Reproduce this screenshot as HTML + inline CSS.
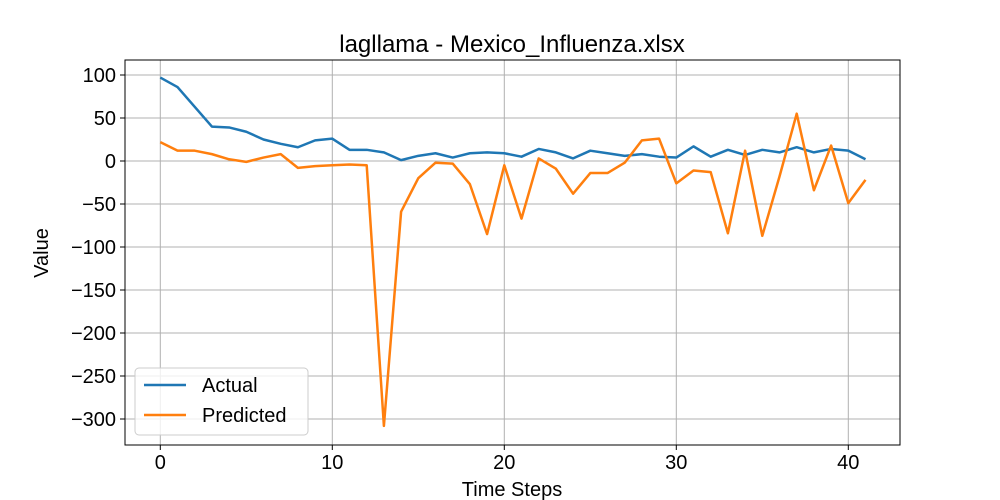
<!DOCTYPE html>
<html><head><meta charset="utf-8"><style>body{margin:0;background:#fff}svg{display:block;font-family:"Liberation Sans",sans-serif}</style></head>
<body>
<svg id="c" width="1000" height="500"></svg>
<script>
const steps=[...Array(42).keys()];
const actual=[97,86,63,40,39,34,25,20,16,24,26,13,13,10,1,6,9,4,9,10,9,5,14,10,3,12,9,6,8,5,4,17,5,13,7,13,10,16,10,14,12,2];
const predicted=[22,12,12,8,2,-1,4,8,-8,-6,-5,-4,-5,-308,-59,-20,-2,-3,-27,-85,-5,-67,3,-9,-38,-14,-14,-2,24,26,-26,-11,-13,-84,12,-87,-18,55,-34,18,-49,-22];
const xTicks=[0,10,20,30,40];
const yTicks=[100,50,0,-50,-100,-150,-200,-250,-300];
const L=125,R=900,T=60,B=445;
const xs=v=>160.3+v*17.2, ys=v=>161-v*0.86;
const s=document.getElementById('c');const NS='http://www.w3.org/2000/svg';
function el(t,a,txt){const e=document.createElementNS(NS,t);for(const k in a)e.setAttribute(k,a[k]);if(txt!=null)e.textContent=txt;s.appendChild(e);return e;}
xTicks.forEach(v=>{const x=xs(v);
const g=el('line',{x1:x,x2:x,y1:T,y2:B,stroke:'#b0b0b0','stroke-width':1});


el('line',{x1:x,x2:x,y1:B,y2:B+5,stroke:'#000'});
const t=el('text',{x:x,y:B+24,'text-anchor':'middle','font-size':20},String(v));

});
yTicks.forEach(v=>{const y=ys(v);
const g=el('line',{x1:L,x2:R,y1:y,y2:y,stroke:'#b0b0b0','stroke-width':1});


el('line',{x1:L-5,x2:L,y1:y,y2:y,stroke:'#000'});
const t=el('text',{x:L-9,y:y+7,'text-anchor':'end','font-size':20},String(v).replace('-','\u2212'));

});
function line(d,c,n){const p=el('polyline',{points:d.map((v,i)=>xs(steps[i])+','+ys(v)).join(' '),fill:'none',stroke:c,'stroke-width':2.5,'stroke-linejoin':'round'});

}
line(actual,'#1f77b4','actual-line');line(predicted,'#ff7f0e','predicted-line');
const fr=el('rect',{x:L,y:T,width:R-L,height:B-T,fill:'none',stroke:'#000','stroke-width':1});


const ti=el('text',{x:512,y:52,'text-anchor':'middle','font-size':24},'lagllama - Mexico_Influenza.xlsx');


const xl=el('text',{x:512,y:496,'text-anchor':'middle','font-size':20},'Time Steps');


const yl=el('text',{x:48,y:253,'text-anchor':'middle','font-size':20,transform:'rotate(-90 48 253)'},'Value');


const lg=el('rect',{x:135,y:368,width:173,height:67,rx:4,fill:'#fff','fill-opacity':0.8,stroke:'#ccc'});


[['Actual','#1f77b4',385],['Predicted','#ff7f0e',415]].forEach(([n,c,y])=>{
el('line',{x1:144,x2:186,y1:y,y2:y,stroke:c,'stroke-width':2.5});
const t=el('text',{x:202,y:y+7,'font-size':20},n);

});
</script>
</body></html>
